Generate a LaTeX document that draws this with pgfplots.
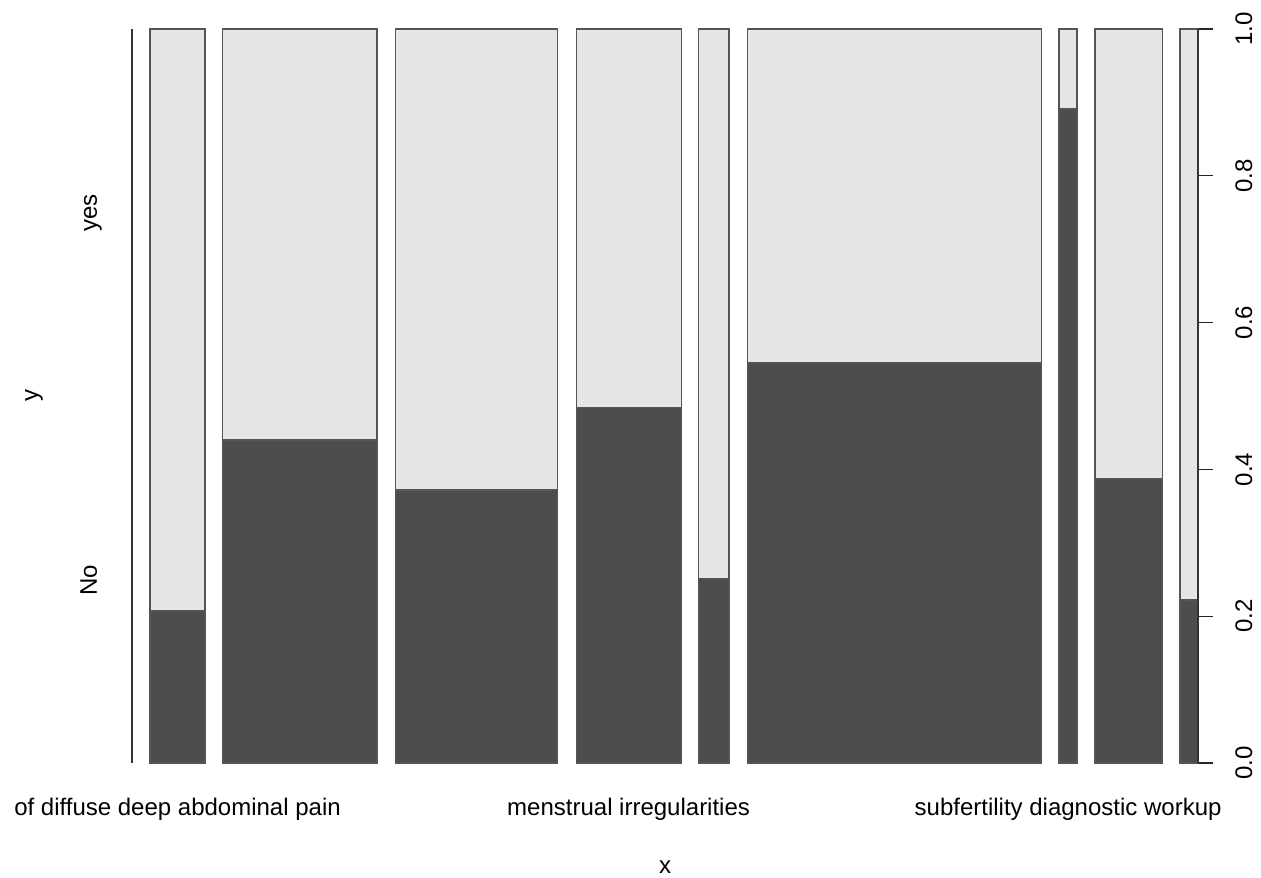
\documentclass[border=0pt]{standalone}
\usepackage{fontspec}
\setmainfont{Liberation Sans}
\usepackage{pgfplots}
\pgfplotsset{compat=1.18}
\definecolor{nocol}{HTML}{4D4D4D}
\definecolor{yescol}{HTML}{E6E6E6}
\definecolor{edge}{HTML}{555555}
\newcommand{\spinebar}[3]{%
  \addplot[fill=nocol, draw=edge, line width=0.7pt] coordinates {(#1,0) (#2,0) (#2,#3) (#1,#3)} -- cycle;
  \addplot[fill=yescol, draw=edge, line width=0.7pt] coordinates {(#1,#3) (#2,#3) (#2,1) (#1,1)} -- cycle;
}
\begin{document}
\begin{tikzpicture}[font=\fontsize{12}{14}\selectfont]
\path[use as bounding box] (0,0) rectangle (630.5pt,438.5pt);
\begin{axis}[
  at={(66pt,57pt)}, anchor=south west,
  scale only axis, width=533pt, height=367pt,
  xmin=-0.02, xmax=1.16, ymin=0, ymax=1,
  clip=false,
  axis line style={draw=none},
  tick align=outside,
  major tick length=7.5pt,
  ytick={0,0.2,0.4,0.6,0.8,1.0},
  ytick pos=right,
  yticklabel pos=right,
  ytick style={draw=black!85, line width=0.6pt},
  yticklabel style={rotate=90, anchor=base, inner sep=0pt,
    /pgf/number format/.cd, fixed, fixed zerofill, precision=1, assume math mode=true},
  yticklabel shift=19.5pt,
  xtick={0.0304,0.5297,1.0162},
  xticklabels={of diffuse deep abdominal pain, menstrual irregularities, subfertility diagnostic workup},
  xtick style={draw=none},
  xticklabel pos=bottom,
  xticklabel style={anchor=base, inner sep=0pt},
  xticklabel shift=18.5pt,
  xlabel={x},
  ylabel={y},
  every axis x label/.style={at={(rel axis cs:0.5,-0.1499)}, anchor=base, inner sep=0pt},
  every axis y label/.style={at={(rel axis cs:-0.0882,0.5)}, rotate=90, anchor=base, inner sep=0pt},
]
\spinebar{0.000}{0.061}{0.207}
\spinebar{0.080}{0.251}{0.440}
\spinebar{0.272}{0.451}{0.372}
\spinebar{0.472}{0.588}{0.484}
\spinebar{0.607}{0.641}{0.251}
\spinebar{0.661}{0.987}{0.545}
\spinebar{1.006}{1.026}{0.891}
\spinebar{1.046}{1.121}{0.388}
\spinebar{1.140}{1.160}{0.222}
\draw[black!80, line width=0.8pt] (axis cs:-0.02,0) -- (axis cs:-0.02,1);
\draw[black!80, line width=0.6pt] (axis cs:1.16,0) -- (axis cs:1.16,1);
\node[rotate=90, anchor=base, inner sep=0pt] at (rel axis cs:-0.03283,0.249) {No};
\node[rotate=90, anchor=base, inner sep=0pt] at (rel axis cs:-0.03283,0.749) {yes};
\end{axis}
\end{tikzpicture}
\end{document}
